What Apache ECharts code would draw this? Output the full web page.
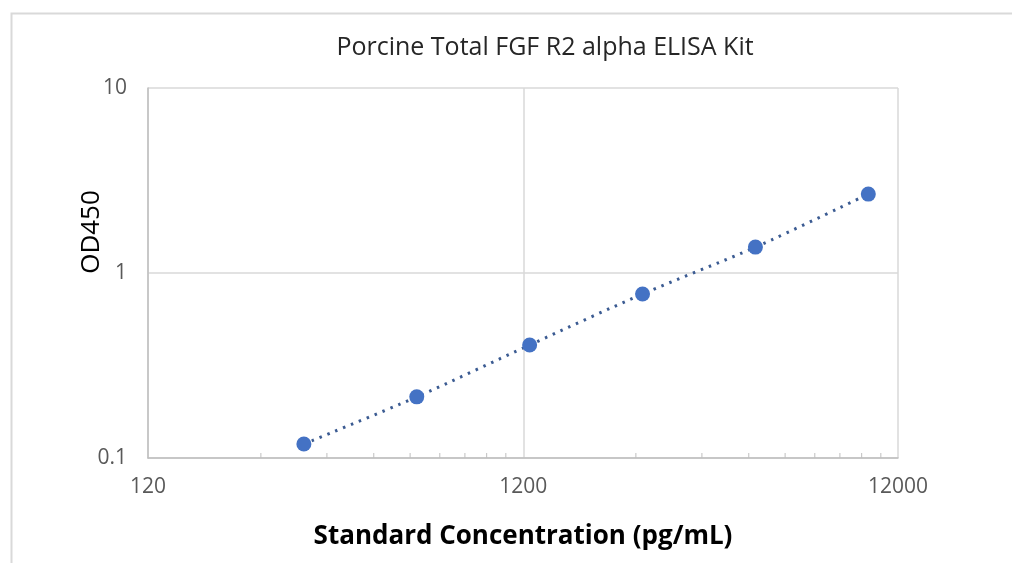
<!DOCTYPE html>
<html>
<head>
<meta charset="utf-8">
<style>
  html, body { margin: 0; padding: 0; background: #fff; }
  #chart { width: 1012px; height: 563px; }
</style>
</head>
<body>
<div id="chart"></div>
<script src="https://cdn.jsdelivr.net/npm/echarts@6/dist/echarts.min.js"></script>
<script>
  // standard curve points
  var concentration = [312.5, 625, 1250, 2500, 5000, 10000];
  var od450 = [0.119, 0.214, 0.408, 0.77, 1.38, 2.67];
  // minor log ticks (Excel style, counted from the axis minimum)
  var xMinorTicks = [240, 360, 480, 600, 720, 840, 960, 1080,
                     2400, 3600, 4800, 6000, 7200, 8400, 9600, 10800];
  var yMinorTicks = [0.2, 0.3, 0.4, 0.5, 0.6, 0.7, 0.8, 0.9,
                     2, 3, 4, 5, 6, 7, 8, 9];

  var xMin = 120, xMax = 12000, yMin = 0.1, yMax = 10;

  var points = concentration.map(function (c, i) { return [c, od450[i]]; });

  var chart = echarts.init(document.getElementById('chart'));

  var labelFont = '"Open Sans", "Noto Sans", sans-serif';

  function minorTickRender(dir) {
    return function (params, api) {
      var v = api.value(0);
      var p = dir === 'x' ? api.coord([v, yMin]) : api.coord([xMin, v]);
      var shape = dir === 'x'
        ? { x1: p[0], y1: p[1], x2: p[0], y2: p[1] - 5 }
        : { x1: p[0], y1: p[1], x2: p[0] + 5, y2: p[1] };
      return { type: 'line', shape: shape, style: { stroke: '#bfbfbf', lineWidth: 1 } };
    };
  }

  var option = {
    backgroundColor: '#fff',
    animation: false,
    graphic: [{
      type: 'rect',
      left: 9, top: 11,
      shape: { width: 1010, height: 560 },
      style: { fill: 'none', stroke: '#d9d9d9', lineWidth: 2 }
    }, {
      // y axis title sits above the plot centre in the original
      type: 'text',
      x: 92, y: 232,
      rotation: Math.PI / 2,
      style: {
        text: 'OD450',
        fontFamily: labelFont, fontSize: 26, fill: '#000',
        align: 'center', verticalAlign: 'middle'
      }
    }],
    title: {
      text: 'Porcine Total FGF R2 alpha ELISA Kit',
      left: 540, top: 30,
      textAlign: 'center',
      textStyle: { fontFamily: labelFont, fontSize: 25, fontWeight: 'normal', color: '#262626' }
    },
    grid: { left: 148, right: 114, top: 88, bottom: 105 },
    xAxis: {
      type: 'log',
      logBase: 10,
      min: xMin, max: xMax,
      interval: 1,
      name: 'Standard Concentration (pg/mL)',
      nameLocation: 'middle',
      nameGap: 66,
      nameTextStyle: { fontFamily: labelFont, fontSize: 26, fontWeight: 'bold', color: '#000' },
      axisLine: { lineStyle: { color: '#bfbfbf', width: 1.5 } },
      axisTick: { show: false },
      axisLabel: {
        margin: 19,
        fontFamily: labelFont, fontSize: 21, color: '#595959',
        formatter: function (v) { return String(+v.toPrecision(2)); }
      },
      splitLine: { show: true, lineStyle: { color: '#d9d9d9', width: 1.5 } }
    },
    yAxis: {
      type: 'log',
      logBase: 10,
      min: yMin, max: yMax,
      interval: 1,
      axisLine: { show: true, lineStyle: { color: '#bfbfbf', width: 1.5 } },
      axisTick: { show: false },
      axisLabel: {
        margin: 21,
        fontFamily: labelFont, fontSize: 21, color: '#595959',
        formatter: function (v) { return String(+v.toPrecision(2)); }
      },
      splitLine: { show: true, lineStyle: { color: '#d9d9d9', width: 1.5 } }
    },
    series: [
      {
        type: 'custom',
        data: xMinorTicks.map(function (v) { return [v, yMin]; }),
        renderItem: minorTickRender('x'),
        clip: false,
        silent: true,
        z: 1
      },
      {
        type: 'custom',
        data: yMinorTicks.map(function (v) { return [xMin, v]; }),
        renderItem: minorTickRender('y'),
        clip: false,
        silent: true,
        z: 1
      },
      {
        name: 'Trend',
        type: 'line',
        data: points,
        showSymbol: false,
        smooth: 0.3,
        lineStyle: { color: '#3b5b92', width: 3, type: [2.5, 6] },
        z: 2
      },
      {
        name: 'OD450',
        type: 'scatter',
        data: points,
        symbolSize: 15,
        itemStyle: { color: '#4472c4', opacity: 1 },
        z: 3
      }
    ]
  };

  chart.setOption(option);
</script>
</body>
</html>
